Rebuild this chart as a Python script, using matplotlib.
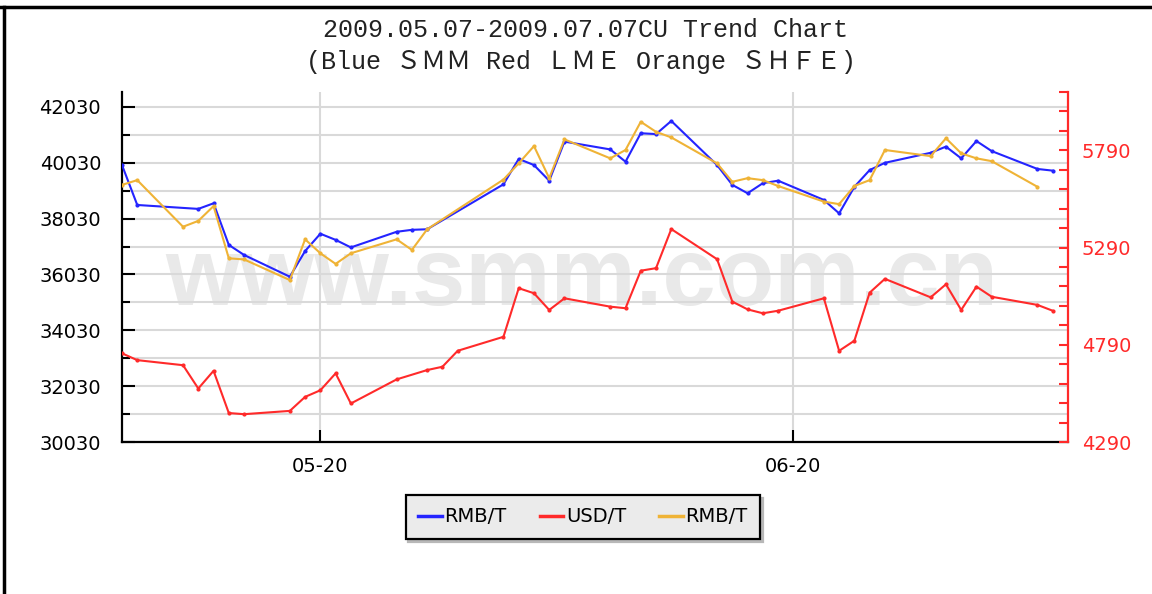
import numpy as np
import pandas as pd
import matplotlib
matplotlib.use('agg')
import matplotlib.pyplot as plt
from matplotlib.lines import Line2D
from matplotlib.ticker import FixedLocator

# SMM (blue, RMB/T)
smm_dates = ["05-07", "05-08", "05-12", "05-13", "05-14", "05-15", "05-18", "05-19",
             "05-20", "05-21", "05-22", "05-25", "05-26", "05-27", "06-01", "06-02",
             "06-03", "06-04", "06-05", "06-08", "06-09", "06-10", "06-11", "06-12",
             "06-15", "06-16", "06-17", "06-18", "06-19", "06-22", "06-23", "06-24",
             "06-25", "06-26", "06-29", "06-30", "07-01", "07-02", "07-03", "07-06",
             "07-07"]
smm_vals = [39950, 38520, 38380, 38580, 37090, 36730, 35950, 36870,
            37490, 37270, 37000, 37560, 37630, 37650, 39260, 40170,
            39950, 39390, 40790, 40510, 40070, 41090, 41060, 41530,
            39950, 39240, 38940, 39300, 39390, 38700, 38220, 39170,
            39770, 40030, 40390, 40610, 40190, 40810, 40450, 39810,
            39750]

# SHFE (orange, RMB/T)
shfe_dates = ["05-07", "05-08", "05-11", "05-12", "05-13", "05-14", "05-15", "05-18",
              "05-19", "05-20", "05-21", "05-22", "05-25", "05-26", "05-27", "06-01",
              "06-02", "06-03", "06-04", "06-05", "06-08", "06-09", "06-10", "06-11",
              "06-12", "06-15", "06-16", "06-17", "06-18", "06-19", "06-22", "06-23",
              "06-24", "06-25", "06-26", "06-29", "06-30", "07-01", "07-02", "07-03",
              "07-06"]
shfe_vals = [39240, 39410, 37740, 37950, 38480, 36610, 36570, 35830,
             37290, 36790, 36410, 36790, 37290, 36910, 37650, 39430,
             40010, 40630, 39480, 40870, 40190, 40490, 41500, 41140,
             40940, 40010, 39350, 39480, 39410, 39200, 38640, 38550,
             39200, 39410, 40490, 40270, 40910, 40370, 40190, 40090,
             39170]

# LME (red, USD/T)
lme_dates = ["05-07", "05-08", "05-11", "05-12", "05-13", "05-14", "05-15", "05-18",
             "05-19", "05-20", "05-21", "05-22", "05-25", "05-27", "05-28", "05-29",
             "06-01", "06-02", "06-03", "06-04", "06-05", "06-08", "06-09", "06-10",
             "06-11", "06-12", "06-15", "06-16", "06-17", "06-18", "06-19", "06-22",
             "06-23", "06-24", "06-25", "06-26", "06-29", "06-30", "07-01", "07-02",
             "07-03", "07-06", "07-07"]
lme_vals = [4746, 4711, 4685, 4565, 4656, 4439, 4433, 4450,
            4522, 4556, 4643, 4488, 4612, 4660, 4677, 4759,
            4831, 5081, 5055, 4969, 5029, 4986, 4978, 5171,
            5184, 5385, 5230, 5012, 4972, 4952, 4965, 5029,
            4759, 4811, 5058, 5129, 5034, 5101, 4969, 5089,
            5037, 4995, 4965]

left_ticks = list(range(30030, 42031, 2000))
right_ticks = [4290, 4790, 5290, 5790]
x_ticks = ["05-20", "06-20"]

title1 = "2009.05.07-2009.07.07CU Trend Chart"
title2 = "(Blue \uff33\uff2d\uff2d Red \uff2c\uff2d\uff25 Orange \uff33\uff28\uff26\uff25)"
legend_labels = ["RMB/T", "USD/T", "RMB/T"]

BLUE = '#2424ff'
RED = '#ff2a2a'
ORANGE = '#efb336'
GRID = '#d9d9d9'


def to_dt(days):
    return pd.to_datetime(["2009-" + d for d in days])


def main():
    fig = plt.figure(figsize=(11.52, 5.94), dpi=100)
    ax = fig.add_axes([122/1152, 1-442/594, 946/1152, 350/594])
    ax2 = ax.twinx()

    ax.set_xlim(pd.Timestamp("2009-05-07"), pd.Timestamp("2009-07-08"))
    ax.set_ylim(30030, 42567)
    ax2.set_ylim(4290, 6090)

    # watermark
    ax.text(0.486, 0.391, "www.smm.com.cn", transform=ax.transAxes, ha='center',
            va='baseline', fontsize=69, fontweight='bold', family='Liberation Sans',
            color='#e9e9e9', zorder=1)

    ax.plot(to_dt(smm_dates), smm_vals, color=BLUE, lw=1.5, marker='o', ms=2, zorder=3)
    ax.plot(to_dt(shfe_dates), shfe_vals, color=ORANGE, lw=1.5, marker='o', ms=2, zorder=4)
    ax2.plot(to_dt(lme_dates), lme_vals, color=RED, lw=1.5, marker='o', ms=2, zorder=3)

    # left axis
    ax.yaxis.set_major_locator(FixedLocator(left_ticks))
    ax.yaxis.set_minor_locator(FixedLocator([v + 1000 for v in left_ticks[:-1]]))
    ax.set_yticklabels([str(v) for v in left_ticks], fontsize=14, family='DejaVu Sans')
    ax.tick_params(axis='y', which='major', direction='in', length=9, width=1.5, pad=15)
    ax.tick_params(axis='y', which='minor', direction='in', length=6, width=1.5)

    # x axis
    ax.set_xticks(to_dt(x_ticks))
    ax.set_xticklabels(x_ticks, fontsize=14, family='DejaVu Sans')
    ax.tick_params(axis='x', direction='in', length=9, width=1.5, pad=11)

    ax.grid(axis='y', which='both', color=GRID, lw=1.5)
    ax.grid(axis='x', which='major', color=GRID, lw=1.5)

    for s in ['top', 'right']:
        ax.spines[s].set_visible(False)
    ax.spines['left'].set_linewidth(1.6)
    ax.spines['bottom'].set_linewidth(1.6)

    # right axis
    ax2.yaxis.set_major_locator(FixedLocator(right_ticks))
    ax2.yaxis.set_minor_locator(FixedLocator([v for v in range(4390, 6091, 100) if v not in right_ticks]))
    ax2.set_yticklabels([str(v) for v in right_ticks], fontsize=14, family='DejaVu Sans', color=RED)
    ax2.tick_params(axis='y', which='both', direction='in', length=6.5, width=1.5, color=RED, pad=10)
    for s in ['top', 'left', 'bottom']:
        ax2.spines[s].set_visible(False)
    ax2.spines['right'].set_color(RED)
    ax2.spines['right'].set_linewidth(1.6)

    # titles
    fam = ['Liberation Mono', 'Noto Sans CJK SC']
    fig.text(0.508, 1-30/594, title1, ha='center', va='center', fontsize=18, family=fam, color='#222222')
    fig.text(0.504, 1-62/594, title2, ha='center', va='center', fontsize=18, family=fam, color='#222222')

    # legend
    handles = [Line2D([], [], color=c, lw=2.5) for c in (BLUE, RED, ORANGE)]
    leg = fig.legend(handles, legend_labels, loc='center', bbox_to_anchor=(583/1152, 1-517/594),
                     ncol=3, fancybox=False, frameon=True, framealpha=1, facecolor='#ebebeb',
                     edgecolor='black', handlelength=1.2, handletextpad=0.15, columnspacing=1.7,
                     borderpad=0.65, borderaxespad=0,
                     prop={'family': 'DejaVu Sans', 'size': 14},
                     shadow={'facecolor': '#b8b8b8', 'edgecolor': '#b8b8b8', 'alpha': 1})
    leg.get_frame().set_linewidth(1.6)

    # outer frame (top and left)
    fig.add_artist(Line2D([0, 1], [1-7/594, 1-7/594], color='black', lw=2.5, transform=fig.transFigure))
    fig.add_artist(Line2D([4/1152, 4/1152], [0, 1-7/594], color='black', lw=2.5, transform=fig.transFigure))

    fig.savefig("out.png", dpi=100)


if __name__ == "__main__":
    main()
